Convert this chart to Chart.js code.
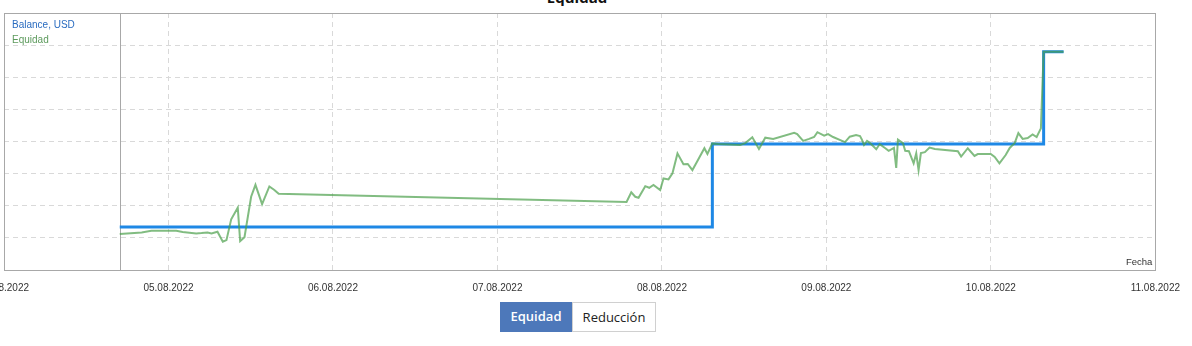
<!DOCTYPE html>
<html>
<head>
<meta charset="utf-8">
<script src="https://cdn.jsdelivr.net/npm/chart.js@4"></script>
<style>
  body { margin: 0; background: #fff; width: 1192px; height: 346px; overflow: hidden; position: relative; font-family: "Liberation Sans", Arial, sans-serif; }
  #title { position: absolute; top: -13px; left: 0; width: 1154px; text-align: center; font: bold 15px "Open Sans", sans-serif; color: #111; }
  #wrap { position: absolute; left: -60px; top: 0; width: 1252px; height: 300px; }
  .leg { position: absolute; left: 12px; font-size: 10px; }
  #fecha { position: absolute; left: 1126px; top: 256px; font-size: 9.5px; color: #333; }
  #btns { position: absolute; left: 500px; top: 302px; display: flex; font: 13px "Open Sans", sans-serif; }
  #btns div { height: 30px; line-height: 29px; box-sizing: border-box; }
  .on { background: #4d78ba; color: #fff; width: 72px; text-align: center; font-weight: 600; }
  .off { background: #fff; color: #222; border: 1px solid #d0d0d0; width: 84px; text-align: center; }
</style>
</head>
<body>
<div id="title">Equidad</div>
<div id="wrap"><canvas id="equityChart"></canvas></div>
<div class="leg" style="top:19px;color:#2a6cc0">Balance, USD</div>
<div class="leg" style="top:34px;color:#5c9a5c">Equidad</div>
<div id="fecha">Fecha</div>
<div id="btns"><div class="on">Equidad</div><div class="off">Reducción</div></div>
<script>
// hours since 04.08.2022 00:00
const dayLabels = ['04.08.2022', '05.08.2022', '06.08.2022', '07.08.2022', '08.08.2022', '09.08.2022', '10.08.2022', '11.08.2022'];

const balanceHours = [16.89, 103.36, 151.70, 154.61];
const balanceValues = [9734, 9992, 10279, 10279];

const equityHours = [
    16.89, 20.09, 21.50, 25.14, 26.06, 28.05, 28.83, 29.70, 30.28, 31.15,
    31.93, 32.46, 33.15, 34.11, 34.46, 35.09, 36.06, 36.69, 37.66, 38.72,
    39.45, 40.08, 90.84, 91.53, 92.11, 92.59, 93.57, 94.15, 94.77, 95.75,
    96.23, 96.96, 97.54, 98.27, 99.14, 99.77, 100.45, 101.18, 102.20, 102.64,
    103.36, 104.24, 107.40, 108.17, 109.19, 110.16, 111.08, 112.24, 115.30, 115.74,
    116.61, 117.48, 118.21, 118.69, 119.67, 120.25, 120.98, 121.95, 122.72, 123.41,
    124.33, 124.91, 125.20, 125.49, 125.93, 126.36, 127.28, 127.78, 128.55, 129.09,
    129.86, 130.19, 130.44, 131.17, 131.50, 132.04, 132.73, 133.11, 133.45, 133.79,
    134.37, 135.05, 135.83, 139.18, 139.66, 140.63, 141.61, 142.09, 143.98, 144.56,
    145.25, 146.16, 146.75, 147.18, 147.47, 148.01, 148.64, 149.37, 150.09, 150.68,
    151.30, 151.70, 154.61
];
const equityValues = [
    9712, 9717, 9722, 9722, 9718, 9714, 9715, 9717, 9714, 9719,
    9688, 9693, 9758, 9794, 9690, 9702, 9828, 9865, 9805, 9860,
    9849, 9837, 9812, 9842, 9828, 9825, 9861, 9856, 9865, 9849,
    9885, 9882, 9901, 9963, 9929, 9930, 9911, 9939, 9979, 9961,
    9994, 9992, 9989, 9995, 10013, 9977, 10012, 10008, 10027, 10023,
    10002, 10008, 10014, 10029, 10018, 10023, 10014, 10005, 9998, 10015,
    10020, 10017, 10005, 9989, 10002, 9995, 9976, 9992, 9980, 9971,
    9980, 9918, 10006, 9995, 9971, 9970, 9932, 9963, 9911, 9964,
    9967, 9981, 9977, 9970, 9953, 9979, 9955, 9961, 9961, 9952,
    9932, 9958, 9980, 9989, 9995, 10026, 10008, 10011, 10022, 10014,
    10041, 10279, 10279
];

const toPoints = (xs, ys) => xs.map((x, i) => ({ x: x, y: ys[i] }));

// frame around the plot and the start-of-history line
const framePlugin = {
    id: 'frame',
    beforeDatasetsDraw(chart) {
        const ctx = chart.ctx;
        const a = chart.chartArea;
        const sx = Math.round(chart.scales.x.getPixelForValue(balanceHours[0])) + 0.5;
        ctx.save();
        ctx.strokeStyle = '#a8a8a8';
        ctx.lineWidth = 1;
        ctx.strokeRect(Math.round(a.left) + 0.5, Math.round(a.top) + 0.5, Math.round(a.right - a.left), Math.round(a.bottom - a.top));
        ctx.beginPath();
        ctx.moveTo(sx, a.top);
        ctx.lineTo(sx, a.bottom);
        ctx.stroke();
        ctx.restore();
    }
};

const gridStyle = { color: '#d9d9d9', lineWidth: 1, drawTicks: false };

const equityChart = new Chart(document.getElementById('equityChart').getContext('2d'), {
    type: 'line',
    data: {
        datasets: [{
            label: 'Equidad',
            data: toPoints(equityHours, equityValues),
            borderColor: 'rgba(76, 160, 76, 0.7)',
            borderWidth: 2,
            pointRadius: 0,
            tension: 0
        }, {
            label: 'Balance, USD',
            data: toPoints(balanceHours, balanceValues),
            borderColor: '#1e88e5',
            borderWidth: 3,
            pointRadius: 0,
            stepped: 'before',
            order: 1
        }]
    },
    options: {
        responsive: true,
        maintainAspectRatio: false,
        animation: false,
        layout: { padding: { left: 64, right: 34, top: 13, bottom: 0 } },
        plugins: { legend: { display: false }, tooltip: { enabled: false } },
        scales: {
            x: {
                type: 'linear',
                min: 0,
                max: 168,
                grid: gridStyle,
                border: { display: false, dash: [5, 4] },
                ticks: {
                    stepSize: 24,
                    padding: 12,
                    maxRotation: 0,
                    autoSkip: false,
                    color: '#333',
                    font: { family: 'Liberation Sans', size: 10 },
                    callback: v => dayLabels[v / 24]
                },
                afterFit: s => { s.height = 30; }
            },
            y: {
                min: 9600,
                max: 10400,
                grid: gridStyle,
                border: { display: false, dash: [5, 4] },
                ticks: { display: false, stepSize: 100 },
                afterFit: s => { s.width = 0; }
            }
        }
    },
    plugins: [framePlugin]
});
</script>
</body>
</html>
